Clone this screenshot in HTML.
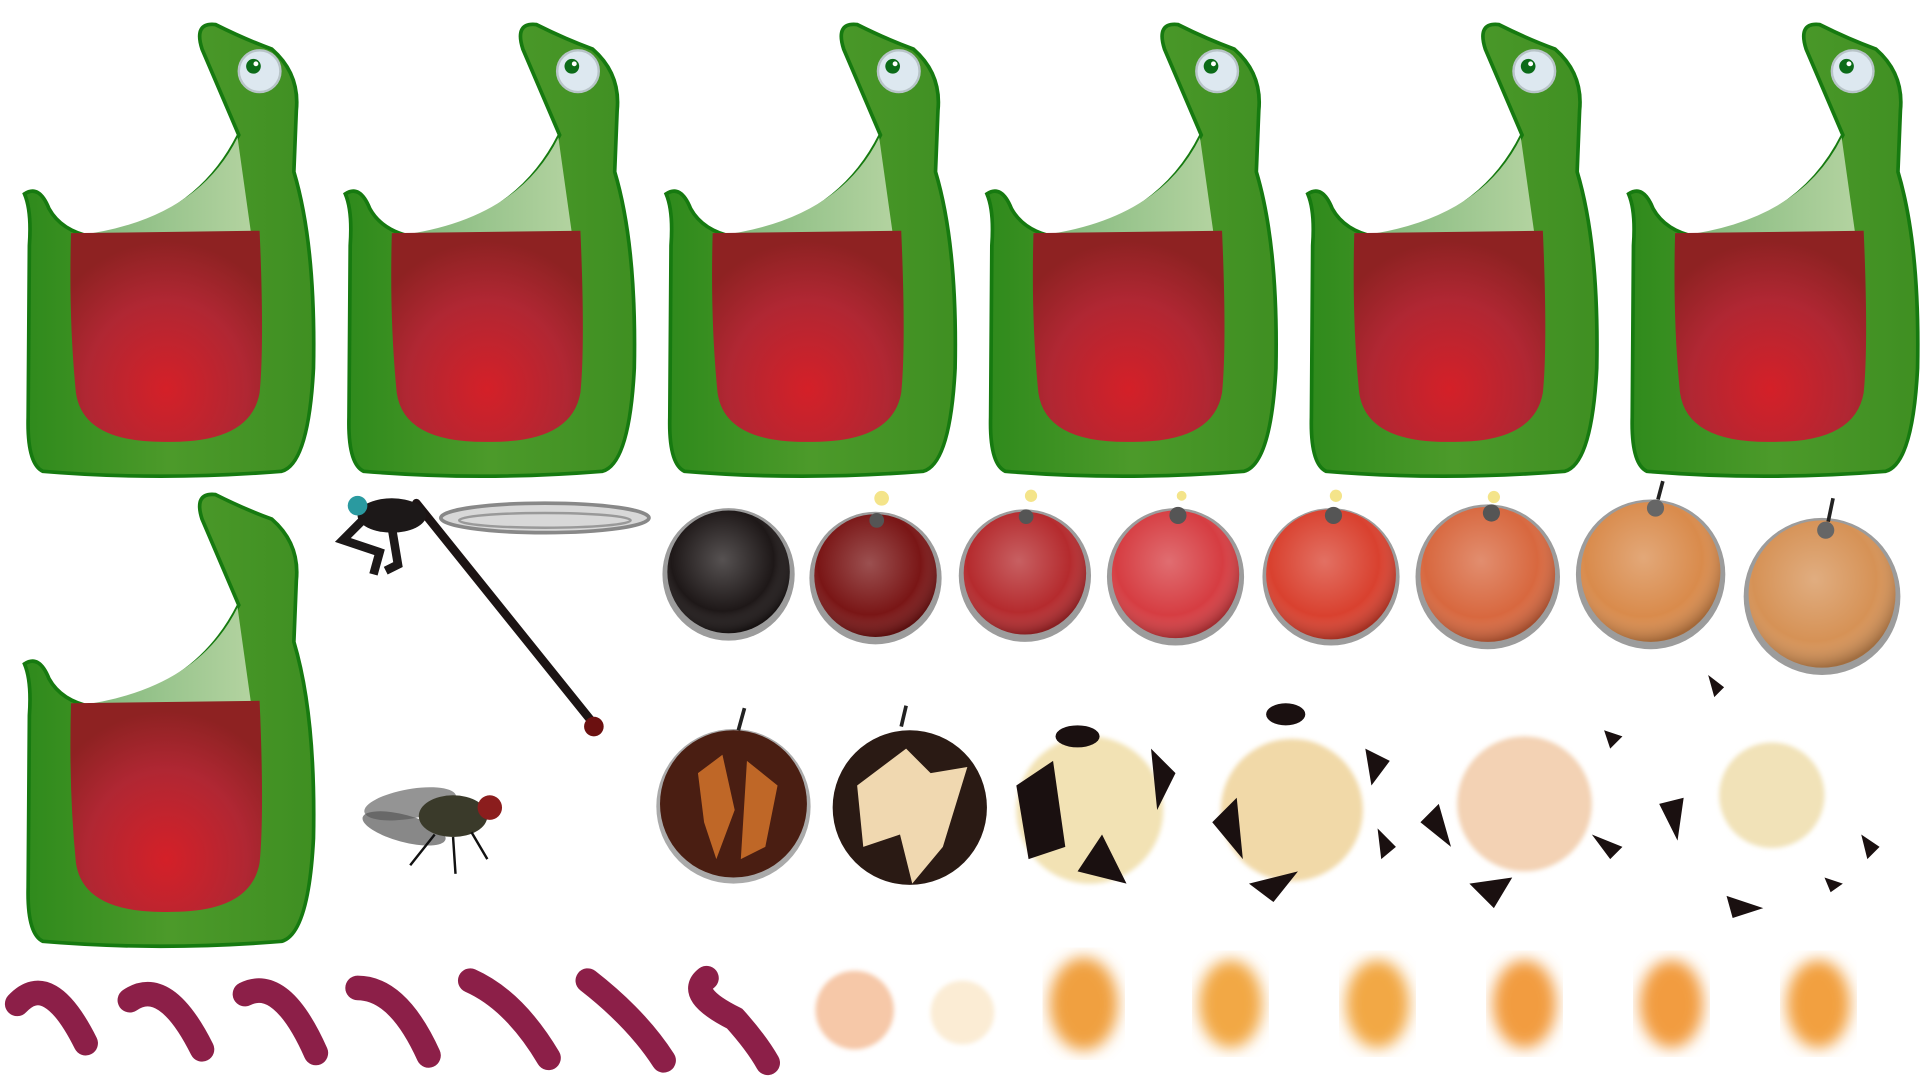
<!DOCTYPE html>
<html><head><meta charset="utf-8"><title>Sprite sheet</title>
<style>html,body{margin:0;padding:0;background:#fff;overflow:hidden}svg{display:block;width:100vw;height:100vh}</style>
</head><body>
<svg viewBox="0 0 1568 880" preserveAspectRatio="none">
<defs>
<linearGradient id="gbody" x1="0" x2="1"><stop offset="0" stop-color="#2f8a1c"/><stop offset="0.5" stop-color="#4c9a2a"/><stop offset="1" stop-color="#3f8f22"/></linearGradient>
<radialGradient id="gpouch" cx="0.5" cy="0.75" r="0.7"><stop offset="0" stop-color="#d42028"/><stop offset="0.6" stop-color="#b02733"/><stop offset="1" stop-color="#8e2222"/></radialGradient>
<linearGradient id="gmem" x1="0" x2="1"><stop offset="0" stop-color="#7fb67a"/><stop offset="1" stop-color="#b3d3a0"/></linearGradient>
<radialGradient id="shine" cx="0.45" cy="0.4" r="0.6"><stop offset="0" stop-color="#fff" stop-opacity="0.25"/><stop offset="0.7" stop-color="#fff" stop-opacity="0"/><stop offset="1" stop-color="#000" stop-opacity="0.25"/></radialGradient>
<filter id="blur"><feGaussianBlur stdDeviation="6"/></filter>
<filter id="blur2"><feGaussianBlur stdDeviation="2"/></filter>
<g id="frog">
<path d="M20,158 Q32,150 40,170 Q50,188 75,193 Q160,180 195,110 L165,40 Q158,18 176,20 Q200,32 222,40 Q245,60 242,90 L240,140 Q258,200 256,300 Q252,378 230,384 Q130,392 35,384 Q22,378 23,340 L24,200 Q26,172 20,158 Z" fill="url(#gbody)" stroke="#167a10" stroke-width="3"/>
<path d="M62,192 Q160,180 194,112 L205,190 Z" fill="url(#gmem)"/>
<path d="M58,190 L212,188 Q216,280 212,320 Q205,360 140,360 Q68,362 62,320 Q56,260 58,190 Z" fill="url(#gpouch)"/>
</g>
<g id="eye"><circle cx="0" cy="0" r="17" fill="#dde8f0" stroke="#b8c4c8" stroke-width="2"/><circle cx="-5" cy="-4" r="6" fill="#0c6b18"/><circle cx="-3" cy="-6" r="2" fill="#fff"/></g>
</defs>

<g>
<g><use href="#frog" x="0" y="0"/><use href="#eye" x="212" y="58"/></g>
<g><use href="#frog" x="262" y="0"/><use href="#eye" x="472" y="58"/></g>
<g><use href="#frog" x="524" y="0"/><use href="#eye" x="734" y="58"/></g>
<g><use href="#frog" x="786" y="0"/><use href="#eye" x="994" y="58"/></g>
<g><use href="#frog" x="1048" y="0"/><use href="#eye" x="1253" y="58"/></g>
<g><use href="#frog" x="1310" y="0"/><use href="#eye" x="1513" y="58"/></g>
<g><use href="#frog" x="0" y="383"/></g>
</g>

<g>
<ellipse cx="445" cy="422" rx="85" ry="12" fill="#d8d8d8" stroke="#888" stroke-width="3"/>
<ellipse cx="445" cy="424" rx="70" ry="6" fill="none" stroke="#999" stroke-width="2"/>
<line x1="340" y1="410" x2="485" y2="590" stroke="#1c1414" stroke-width="7" stroke-linecap="round"/>
<circle cx="485" cy="592" r="8" fill="#6b1010"/>
<ellipse cx="320" cy="420" rx="28" ry="14" fill="#1c1818"/>
<circle cx="292" cy="412" r="8" fill="#2a9aa0"/>
<path d="M295,425 L280,440 L310,450 L305,468 M320,430 L325,460 L315,465" stroke="#1c1818" stroke-width="7" fill="none"/>
</g>

<g>
<ellipse cx="335" cy="655" rx="38" ry="12" fill="#666" opacity="0.7" transform="rotate(-10 335 655)"/>
<ellipse cx="330" cy="675" rx="35" ry="11" fill="#555" opacity="0.7" transform="rotate(15 330 675)"/>
<ellipse cx="370" cy="665" rx="28" ry="17" fill="#3a3a2a"/>
<circle cx="400" cy="658" r="10" fill="#8b1d1d"/>
<path d="M355,680 L335,705 M370,682 L372,712 M385,678 L398,700" stroke="#111" stroke-width="2"/>
</g>

<g>
<g><circle cx="595" cy="468" r="54" fill="#9c9c9c"/><circle cx="595" cy="466" r="50" fill="#1e1818"/><circle cx="595" cy="466" r="50" fill="url(#shine)"/></g>
<g><circle cx="715" cy="471" r="54" fill="#9c9c9c"/><circle cx="715" cy="469" r="50" fill="#7a1616"/><circle cx="715" cy="469" r="50" fill="url(#shine)"/><circle cx="716" cy="424" r="6" fill="#555"/><circle cx="720" cy="406" r="6" fill="#f4e48a"/></g>
<g><circle cx="837" cy="469" r="54" fill="#9c9c9c"/><circle cx="837" cy="467" r="50" fill="#b52b2e"/><circle cx="837" cy="467" r="50" fill="url(#shine)"/><circle cx="838" cy="421" r="6" fill="#555"/><circle cx="842" cy="404" r="5" fill="#f4e48a"/></g>
<g><circle cx="960" cy="470" r="56" fill="#9c9c9c"/><circle cx="960" cy="468" r="52" fill="#d63d42"/><circle cx="960" cy="468" r="52" fill="url(#shine)"/><circle cx="962" cy="420" r="7" fill="#555"/><circle cx="965" cy="404" r="4" fill="#f4e48a"/></g>
<g><circle cx="1087" cy="470" r="56" fill="#9c9c9c"/><circle cx="1087" cy="468" r="53" fill="#d9412f"/><circle cx="1087" cy="468" r="53" fill="url(#shine)"/><circle cx="1089" cy="420" r="7" fill="#555"/><circle cx="1091" cy="404" r="5" fill="#f4e48a"/></g>
<g><circle cx="1215" cy="470" r="59" fill="#9c9c9c"/><circle cx="1215" cy="468" r="55" fill="#d8683f"/><circle cx="1215" cy="468" r="55" fill="url(#shine)"/><circle cx="1218" cy="418" r="7" fill="#555"/><circle cx="1220" cy="405" r="5" fill="#f4e48a"/></g>
<g><circle cx="1348" cy="468" r="61" fill="#9c9c9c"/><circle cx="1348" cy="466" r="57" fill="#d98b4c"/><circle cx="1348" cy="466" r="57" fill="url(#shine)"/><circle cx="1352" cy="414" r="7" fill="#666"/><line x1="1354" y1="407" x2="1358" y2="392" stroke="#222" stroke-width="3"/></g>
<g><circle cx="1488" cy="486" r="64" fill="#9c9c9c"/><circle cx="1488" cy="484" r="60" fill="#d69256"/><circle cx="1488" cy="484" r="60" fill="url(#shine)"/><circle cx="1491" cy="432" r="7" fill="#666"/><line x1="1493" y1="425" x2="1497" y2="406" stroke="#222" stroke-width="3"/></g>
</g>

<g>
<g><circle cx="599" cy="657" r="63" fill="#aaa"/><circle cx="599" cy="655" r="60" fill="#4a1e12"/><path d="M570,630 L590,615 L600,660 L585,700 L575,670 Z M610,620 L635,640 L625,690 L605,700 Z" fill="#d4742c" opacity="0.85"/><line x1="603" y1="595" x2="608" y2="577" stroke="#222" stroke-width="3"/></g>
<g><circle cx="743" cy="658" r="63" fill="#2a1a14"/><path d="M700,640 L740,610 L760,630 L790,625 L770,690 L745,720 L735,680 L705,690 Z" fill="#f0d8b0"/><line x1="736" y1="592" x2="740" y2="575" stroke="#222" stroke-width="3"/></g>
<g><circle cx="890" cy="660" r="60" fill="#f2e2b4" filter="url(#blur2)"/><path d="M830,640 L860,620 L870,690 L840,700 Z M900,680 L920,720 L880,710 Z M940,610 L960,630 L945,660 Z" fill="#1a1010"/><ellipse cx="880" cy="600" rx="18" ry="9" fill="#1a1010"/></g>
<g><circle cx="1055" cy="660" r="58" fill="#f1d9a8" filter="url(#blur2)"/><path d="M990,670 L1010,650 L1015,700 Z M1020,720 L1060,710 L1040,735 Z M1115,610 L1135,620 L1120,640 Z M1125,675 L1140,690 L1128,700 Z" fill="#1a1010"/><ellipse cx="1050" cy="582" rx="16" ry="9" fill="#1a1010"/></g>
<g><circle cx="1245" cy="655" r="55" fill="#f3d2b4" filter="url(#blur2)"/><path d="M1160,670 L1175,655 L1185,690 Z M1200,720 L1235,715 L1220,740 Z M1310,595 L1325,600 L1315,610 Z M1300,680 L1325,690 L1315,700 Z M1355,655 L1375,650 L1370,685 Z" fill="#1a1010"/></g>
<g><circle cx="1447" cy="648" r="43" fill="#f1e2b8" filter="url(#blur2)"/><path d="M1410,730 L1440,740 L1415,748 Z M1520,680 L1535,690 L1525,700 Z M1490,715 L1505,720 L1495,727 Z M1395,550 L1408,560 L1400,568 Z" fill="#1a1010"/></g>
</g>

<g fill="none" stroke="#8c1f48" stroke-width="20" stroke-linecap="round">
<path d="M14,818 Q40,790 70,850"/>
<path d="M106,815 Q135,795 165,855"/>
<path d="M200,810 Q230,795 258,858"/>
<path d="M292,805 Q325,805 350,860"/>
<path d="M384,799 Q420,815 448,862"/>
<path d="M480,799 Q520,830 542,864"/>
<path d="M577,797 Q560,810 600,830 Q618,850 627,866"/>
</g>

<g>
<circle cx="698" cy="823" r="32" fill="#f6c8a8" filter="url(#blur2)"/>
<circle cx="786" cy="825" r="26" fill="#fbecd4" filter="url(#blur2)"/>
<ellipse cx="885" cy="818" rx="28" ry="38" fill="#f0a040" filter="url(#blur)"/>
<ellipse cx="1005" cy="818" rx="26" ry="36" fill="#f2a844" filter="url(#blur)"/>
<ellipse cx="1125" cy="818" rx="26" ry="36" fill="#f2a844" filter="url(#blur)"/>
<ellipse cx="1245" cy="818" rx="26" ry="36" fill="#f29c40" filter="url(#blur)"/>
<ellipse cx="1365" cy="818" rx="26" ry="36" fill="#f29c40" filter="url(#blur)"/>
<ellipse cx="1485" cy="818" rx="26" ry="36" fill="#f2a040" filter="url(#blur)"/>
</g>
</svg>
</body></html>
